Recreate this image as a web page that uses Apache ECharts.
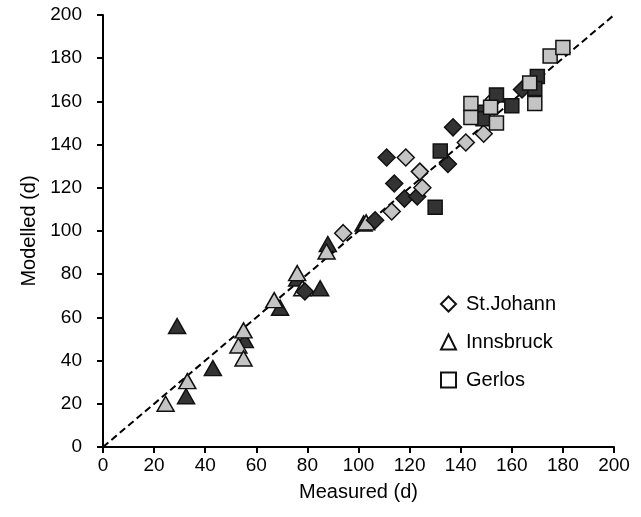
<!DOCTYPE html>
<html>
<head>
<meta charset="utf-8">
<script src="https://cdn.jsdelivr.net/npm/echarts@6/dist/echarts.min.js"></script>
<style>html,body{margin:0;padding:0;background:#fff;}#c{width:641px;height:517px;}</style>
</head>
<body>
<div id="c"></div>
<script>
var legendNames = ['St.Johann', 'Innsbruck', 'Gerlos'];
var xTicks = [0, 20, 40, 60, 80, 100, 120, 140, 160, 180, 200];
var yTicks = [0, 20, 40, 60, 80, 100, 120, 140, 160, 180, 200];
var oneToOne = [[0, 0], [200, 200]];

var innsbruckDark = [[29, 56], [32.5, 23.5], [43, 36.5], [55.5, 49.5], [69.3, 64.5], [76, 78], [85, 73.5], [88, 94], [102, 103.5]];
var innsbruckLight = [[24.5, 20], [33, 30.5], [53, 47], [55, 54], [55, 41], [67, 68], [76, 80.5], [78, 73.5], [87.5, 90.5], [103, 104]];
var stJohannDark = [[111, 134], [114, 122], [106.5, 105], [118, 115], [123, 116], [135, 131], [137, 148], [79, 72], [164, 165.5]];
var stJohannLight = [[94, 99], [113, 109], [118.5, 134], [124, 127.5], [125, 120], [142, 141], [149, 145], [153, 161]];
var gerlosDark = [[130, 111], [132, 137], [148.7, 155], [148.7, 152], [154, 163], [160, 158], [170, 171.5], [169, 166]];
var gerlosLight = [[144, 159], [144, 152.5], [151.7, 157.3], [154, 150], [167, 168.5], [169, 159], [175, 181], [180, 185]];

var DARK = '#333333', LIGHT = '#c4c4c4';
function sc(name, data, symbol, size, fill) {
  return {
    name: name, type: 'scatter', data: data, symbol: symbol, symbolSize: size,
    itemStyle: { color: fill, borderColor: '#111', borderWidth: 1.5, opacity: 1 },
    emphasis: { disabled: true }, z: 3
  };
}
var chart = echarts.init(document.getElementById('c'), null, { renderer: 'canvas' });
var font = 'Liberation Sans, Arial, sans-serif';
chart.setOption({
  animation: false,
  textStyle: { fontFamily: font },
  grid: { left: 103, right: 27, top: 15, bottom: 70 },
  legend: {
    data: legendNames.map(function (n) { return { name: n }; }),
    orient: 'vertical', left: 435, top: 289, itemGap: 18, itemWidth: 15, itemHeight: 15,
    textStyle: { fontSize: 20, color: '#000', fontFamily: font, padding: [0, 0, 0, 5] },
    selectedMode: false
  },
  xAxis: {
    type: 'value', min: xTicks[0], max: xTicks[xTicks.length - 1], interval: 20,
    name: 'Measured (d)', nameLocation: 'middle', nameGap: 35,
    nameTextStyle: { fontSize: 20, color: '#000', fontFamily: font },
    axisLine: { onZero: false, lineStyle: { color: '#000', width: 2 } },
    axisTick: { show: true, inside: false, length: 6, lineStyle: { color: '#000', width: 2 } },
    axisLabel: { fontSize: 19, color: '#000', margin: 9, fontFamily: font },
    splitLine: { show: false }
  },
  yAxis: {
    type: 'value', min: yTicks[0], max: yTicks[yTicks.length - 1], interval: 20,
    name: 'Modelled (d)', nameLocation: 'middle', nameGap: 62, nameRotate: 90,
    nameTextStyle: { fontSize: 20, color: '#000', fontFamily: font },
    axisLine: { onZero: false, lineStyle: { color: '#000', width: 2 } },
    axisTick: { show: true, inside: false, length: 6, lineStyle: { color: '#000', width: 2 } },
    axisLabel: { fontSize: 19, color: '#000', margin: 21, fontFamily: font },
    splitLine: { show: false }
  },
  series: [
    { name: 'line', type: 'line', data: oneToOne, symbol: 'none', z: 2,
      lineStyle: { color: '#000', width: 2, type: [7, 4] }, emphasis: { disabled: true } },
    sc('St.Johann', [], 'diamond', 16, '#fff'),
    sc('Innsbruck', [], 'triangle', 16, '#fff'),
    sc('Gerlos', [], 'rect', 16, '#fff'),
    sc('ib-d', innsbruckDark, 'triangle', [17, 15], DARK),
    sc('ib-l', innsbruckLight, 'triangle', [17, 15], LIGHT),
    sc('sj-d', stJohannDark, 'diamond', 17, DARK),
    sc('sj-l', stJohannLight, 'diamond', 17, LIGHT),
    sc('ge-d', gerlosDark, 'rect', 14, DARK),
    sc('ge-l', gerlosLight, 'rect', 14, LIGHT)
  ]
});
</script>
</body>
</html>
